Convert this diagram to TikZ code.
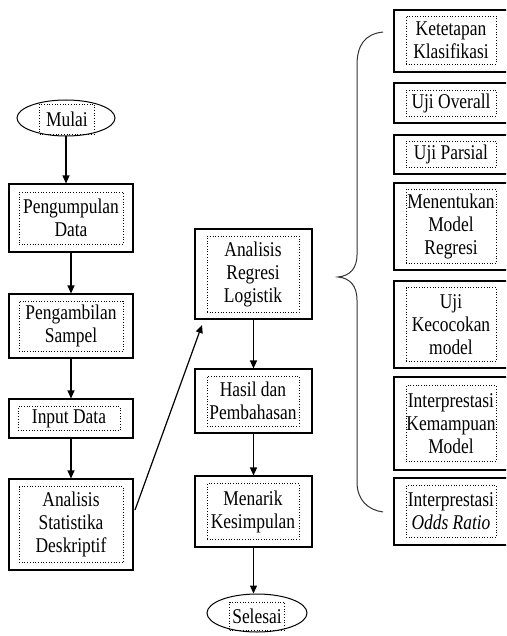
\documentclass[tikz,border=0pt]{standalone}
\usepackage{fontspec}
\setmainfont{Liberation Serif}[FakeStretch=0.83]
\usetikzlibrary{arrows.meta,shapes.geometric}
\begin{document}
\begin{tikzpicture}[x=1pt,y=-1pt,
  box/.style={draw, line width=1.1pt, inner sep=0pt},
  oval/.style={draw, ellipse, line width=1pt, inner sep=0pt},
  txt/.style={draw, dotted, line width=0.7pt, align=center, inner sep=0pt,
    font=\fontsize{21}{23}\selectfont},
  arr/.style={line width=1.2pt, -{Triangle[length=8pt,width=7pt]}},
  brace/.style={line width=1pt, black!80}]
\useasboundingbox (0,0) rectangle (506,636);
\clip (0,0) rectangle (506,636);
% left column
\node[oval, minimum width=98, minimum height=36] (mulai) at (66,118) {};
\node[txt, minimum width=55, minimum height=30] (mulait) at (67,119) {Mulai};
\node[box, minimum width=124, minimum height=68] (b1) at (71,218) {};
\node[txt, minimum width=104, minimum height=52] (b1t) at (71,218) {Pengumpulan\\Data};
\node[box, minimum width=124, minimum height=64] (b2) at (71,326) {};
\node[txt, minimum width=104, minimum height=50] (b2t) at (71,326) {Pengambilan\\Sampel};
\node[box, minimum width=124, minimum height=39] (b3) at (71,418.5) {};
\node[txt, minimum width=102, minimum height=24] (b3t) at (69,418.5) {Input Data};
\node[box, minimum width=124, minimum height=91] (b4) at (71,524.5) {};
\node[txt, minimum width=104, minimum height=76] (b4t) at (71,524.5) {Analisis\\Statistika\\Deskriptif};
% middle column
\node[box, minimum width=117, minimum height=90] (m1) at (253.5,274) {};
\node[txt, minimum width=92, minimum height=76] (m1t) at (253,274) {Analisis\\Regresi\\Logistik};
\node[box, minimum width=117, minimum height=64] (m2) at (253.5,401) {};
\node[txt, minimum width=92, minimum height=50] (m2t) at (253,401) {Hasil dan\\Pembahasan};
\node[box, minimum width=117, minimum height=71] (m3) at (253.5,511.5) {};
\node[txt, minimum width=92, minimum height=56] (m3t) at (253,511.5) {Menarik\\Kesimpulan};
\node[oval, minimum width=100, minimum height=38] (selesai) at (257,613) {};
\node[txt, minimum width=55, minimum height=28] (selesait) at (257,616) {Selesai};
% right column
\node[box, minimum width=121, minimum height=62] (r1) at (454.5,41) {};
\node[txt, minimum width=90, minimum height=48] (r1t) at (451,40) {Ketetapan\\Klasifikasi};
\node[box, minimum width=121, minimum height=40] (r2) at (454.5,103) {};
\node[txt, minimum width=90, minimum height=26] (r2t) at (451,103) {Uji Overall};
\node[box, minimum width=121, minimum height=39] (r3) at (454.5,154.5) {};
\node[txt, minimum width=90, minimum height=26] (r3t) at (451,154.5) {Uji Parsial};
\node[box, minimum width=121, minimum height=87] (r4) at (454.5,226.5) {};
\node[txt, minimum width=90, minimum height=74] (r4t) at (451,226.5) {Menentukan\\Model\\Regresi};
\node[box, minimum width=121, minimum height=87] (r5) at (454.5,324.5) {};
\node[txt, minimum width=90, minimum height=74] (r5t) at (451,324.5) {Uji\\Kecocokan\\model};
\node[box, minimum width=121, minimum height=93] (r6) at (454.5,423.5) {};
\node[txt, minimum width=90, minimum height=76] (r6t) at (451,423.5) {Interprestasi\\Kemampuan\\Model};
\node[box, minimum width=121, minimum height=67] (r7) at (454.5,511.5) {};
\node[txt, minimum width=90, minimum height=52] (r7t) at (451,511.5) {Interprestasi\\\textit{Odds Ratio}};
% connectors
\draw[arr] (mulai.south) -- (mulai.south |- b1.north);
\draw[arr] (b1.south) -- (b2.north);
\draw[arr] (b2.south) -- (b3.north);
\draw[arr] (b3.south) -- (b4.north);
\coordinate (d1) at (135,510);
\coordinate (d2) at (202,325);
\draw[arr] (d1) -- (d2);
\draw[arr] (m1.south) -- (m2.north);
\draw[arr] (m2.south) -- (m3.north);
\draw[arr] (m3.south) -- (m3.south |- selesai.north);
% brace
\coordinate (bt) at (383,32);
\coordinate (bm) at (338,277);
\coordinate (bb) at (383,512);
\draw[brace] (bt) .. controls (365,34) and (357,45) .. (357,65) -- (357,255)
  .. controls (357,268) and (350,276) .. (bm)
  .. controls (350,278) and (357,286) .. (357,300) -- (357,482)
  .. controls (357,500) and (368,510) .. (bb);
\end{tikzpicture}
\end{document}
